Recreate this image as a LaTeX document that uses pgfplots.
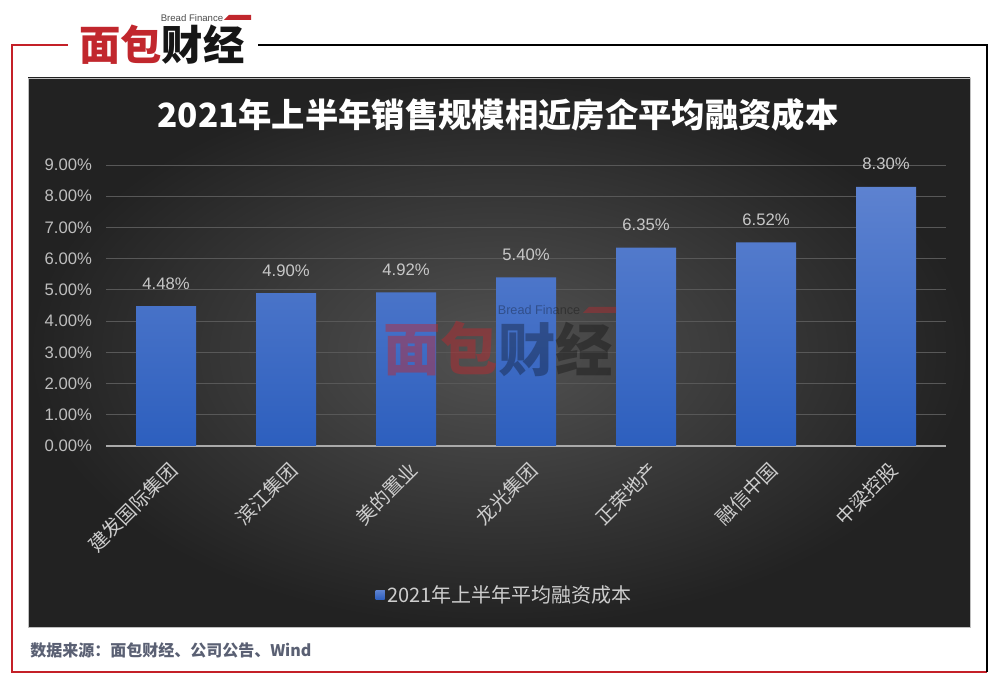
\documentclass[border=0pt]{standalone}
\usepackage{fontspec}
\setmainfont{Liberation Sans}
\newfontfamily\cjk{Noto Sans CJK SC}
\usepackage{pgfplots}
\pgfplotsset{compat=1.18}
\definecolor{frameRed}{RGB}{196,32,40}
\definecolor{logoRed}{RGB}{193,39,45}
\definecolor{logoBlack}{RGB}{22,22,22}
\definecolor{panelIn}{RGB}{82,82,82}
\definecolor{panelOut}{RGB}{34,34,34}
\definecolor{barTop}{RGB}{93,130,208}
\definecolor{barBot}{RGB}{45,95,190}
\definecolor{barMid}{RGB}{68,114,200}
\definecolor{gridC}{RGB}{88,88,88}
\definecolor{zeroC}{RGB}{170,170,170}
\definecolor{tickC}{RGB}{190,190,190}
\definecolor{valC}{RGB}{200,200,200}
\definecolor{xlabC}{RGB}{205,205,205}
\definecolor{srcC}{RGB}{90,96,115}
\begin{document}
\begin{tikzpicture}[x=0.75pt,y=0.75pt]
\path (0,0) rectangle (1000,685);
% frame
\draw[frameRed, line width=1.5pt] (68,640) -- (12,640) -- (12,13) -- (987,13);
\draw[black, line width=1.2pt] (258,640) -- (987,640) -- (987,13);
% panel
\shade[inner color=panelIn, outer color=panelOut] (28,58) rectangle (970,607);
\draw[gray!50, line width=0.6pt] (28,58) rectangle (970,607);
% logo
\node[font=\cjk\bfseries\fontsize{31}{31}\selectfont, inner sep=0] at (162,640) {\textcolor{logoRed}{面包}\textcolor{logoBlack}{财经}};
\node[font=\fontsize{7.2}{7.2}\selectfont, text=black!70, inner sep=0] at (192,667) {Bread Finance};
\fill[logoRed] (224,665) -- (251,665) -- (251,670) -- (229,670) -- cycle;
% title
\node[font=\cjk\bfseries\fontsize{25}{25}\selectfont, text=white] at (498,570) {2021年上半年销售规模相近房企平均融资成本};
% source
\node[anchor=west, font=\cjk\bfseries\fontsize{12}{12}\selectfont, text=srcC, inner sep=0] at (30,35) {数据来源：面包财经、公司公告、Wind};
\begin{axis}[
  at={(79.5pt,179.25pt)}, anchor=south west,
  scale only axis, width=630pt, height=210.75pt,
  xmin=-0.5, xmax=6.5, ymin=0, ymax=9,
  xtick={0,...,6},
  xticklabels={建发国际集团,滨江集团,美的置业,龙光集团,正荣地产,融信中国,中梁控股},
  ytick={0,...,9},
  axis line style={draw=none},
  major tick length=0pt,
  ymajorgrids, grid style={gridC, line width=0.75pt},
  /pgf/number format/assume math mode=true,
  yticklabel={\pgfmathprintnumber[fixed,fixed zerofill,precision=2]{\tick}\%},
  yticklabel style={font=\fontsize{12.5}{12.5}\selectfont, text=tickC, xshift=-7pt},
  xticklabel style={font=\cjk\fontsize{14.5}{14.5}\selectfont, text=xlabC, rotate=45, anchor=east, yshift=-15pt, xshift=-3pt},
  extra y ticks={0}, extra y tick labels={},
  extra y tick style={grid style={zeroC, line width=1.5pt}},
  legend style={draw=none, fill=none, at={(0.475,-0.53)}, anchor=center,
    font=\cjk\fontsize{15}{15}\selectfont, text=xlabC},
  legend image code/.code={\fill[barMid] (0pt,-3.4pt) rectangle (6.8pt,3.4pt);},
]
\addplot[ybar, bar width=45pt, draw=none, top color=barTop, bottom color=barBot,
  nodes near coords={\pgfmathprintnumber[fixed,fixed zerofill,precision=2]{\pgfplotspointmeta}\%},
  every node near coord/.append style={font=\fontsize{12.5}{12.5}\selectfont, text=valC, anchor=center, yshift=17pt}
] coordinates {(0,4.48) (1,4.90) (2,4.92) (3,5.40) (4,6.35) (5,6.52) (6,8.30)};
\addlegendentry{2021年上半年平均融资成本}
\end{axis}
% watermark
\node[font=\cjk\bfseries\fontsize{43}{43}\selectfont, inner sep=0, anchor=east, text=logoRed, text opacity=0.45] at (498,336) {面包};
\node[font=\cjk\bfseries\fontsize{43}{43}\selectfont, inner sep=0, anchor=west, text=black, text opacity=0.3] at (498,336) {财经};
\node[font=\fontsize{9.5}{9.5}\selectfont, text=black, text opacity=0.3, inner sep=0] at (539,375) {Bread Finance};
\fill[logoRed, opacity=0.4] (583,372) -- (616,372) -- (616,378) -- (589,378) -- cycle;
\end{tikzpicture}
\end{document}
